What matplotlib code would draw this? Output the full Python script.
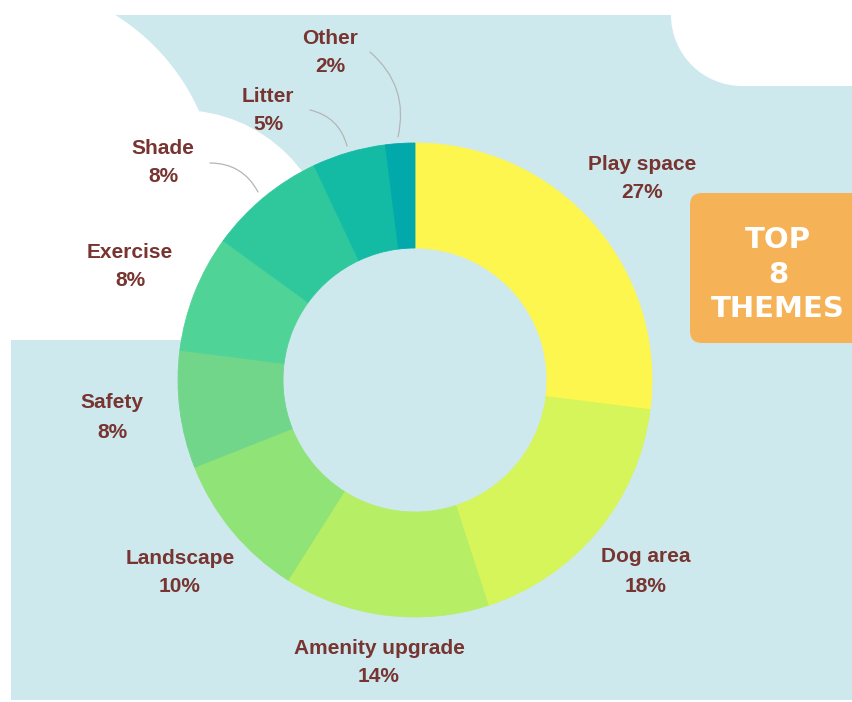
import matplotlib
matplotlib.use('Agg')
import matplotlib.pyplot as plt
from matplotlib.patches import Rectangle, Circle, FancyBboxPatch

# data
themes = ['Play space', 'Dog area', 'Amenity upgrade', 'Landscape', 'Safety',
          'Exercise', 'Shade', 'Litter', 'Other']
shares = [27, 18, 14, 10, 8, 8, 8, 5, 2]
colours = ['#fdf64f', '#d5f55a', '#b6ee66', '#90e376', '#72d68a',
           '#50d396', '#2fc89c', '#14bba4', '#01a9aa']

# label centres in pixel coords (top-left origin)
label_pos = [(642, 164), (646, 557), (379, 648), (180, 558), (112, 403),
             (130, 252), (163, 148), (268, 96), (330, 38)]
# leader lines for the small slices: (from label, to ring)
leaders = {'Shade': ((210, 163), (258, 192)),
           'Litter': ((310, 110), (347, 146)),
           'Other': ((370, 52), (398, 137))}

W, H = 853, 702
BLUE = '#cde9ee'
TXT = '#773430'


def Y(y):
    return H - y


fig = plt.figure(figsize=(W / 100, H / 100), dpi=100)
ax = fig.add_axes([0, 0, 1, 1])

# background shapes
ax.add_patch(Rectangle((11, Y(700)), W, 685, color=BLUE, lw=0, zorder=0))
ax.add_patch(Circle((0, Y(200)), 218, color='white', lw=0, zorder=1))
ax.add_patch(Circle((180, Y(262)), 152, color='white', lw=0, zorder=1))
ax.add_patch(Rectangle((11, Y(700)), 320, 360, color=BLUE, lw=0, zorder=1.5))
ax.add_patch(Circle((742, Y(15)), 71, color='white', lw=0, zorder=1))
ax.add_patch(Rectangle((741, Y(86)), 130, 100, color='white', lw=0, zorder=1))

# donut
cx, cy, r_out, r_in = 415, 380, 237, 132
wedges, _ = ax.pie(shares, colors=colours, startangle=90, counterclock=False,
                   radius=r_out, center=(cx, Y(cy)),
                   wedgeprops=dict(width=r_out - r_in, linewidth=0.6))
for w, c in zip(wedges, colours):
    w.set_edgecolor(c)
    w.set_zorder(3)
ax.add_patch(Circle((cx, Y(cy)), r_in, color=BLUE, lw=0, zorder=2.5))

# labels
for name, val, (lx, ly) in zip(themes, shares, label_pos):
    ax.text(lx, Y(ly), name, ha='center', va='center', fontsize=15,
            fontweight='bold', color=TXT, family='Liberation Sans', zorder=5)
    ax.text(lx, Y(ly + 29), f'{val}%', ha='center', va='center', fontsize=15,
            fontweight='bold', color=TXT, family='Liberation Sans', zorder=5)

for name, (p0, p1) in leaders.items():
    ax.annotate('', xy=(p1[0], Y(p1[1])), xytext=(p0[0], Y(p0[1])),
                arrowprops=dict(arrowstyle='-', color='#b5b5b5', lw=0.9,
                                shrinkA=0, shrinkB=0,
                                connectionstyle='arc3,rad=-0.3'),
                zorder=4)

# TOP 8 THEMES badge
ax.add_patch(FancyBboxPatch((690, Y(343)), 190, 150,
                            boxstyle='round,pad=0,rounding_size=12',
                            fc='#f6b257', ec='none', zorder=4))
for txt, ty in zip(['TOP', '8', 'THEMES'], [240, 275, 309]):
    ax.text(778, Y(ty), txt, ha='center', va='center', fontsize=21,
            fontweight='bold', color='white', family='DejaVu Sans', zorder=5)

ax.set_xlim(0, W)
ax.set_ylim(0, H)
ax.set_aspect('auto')
ax.axis('off')
fig.savefig('out.png', dpi=100, facecolor='white')
